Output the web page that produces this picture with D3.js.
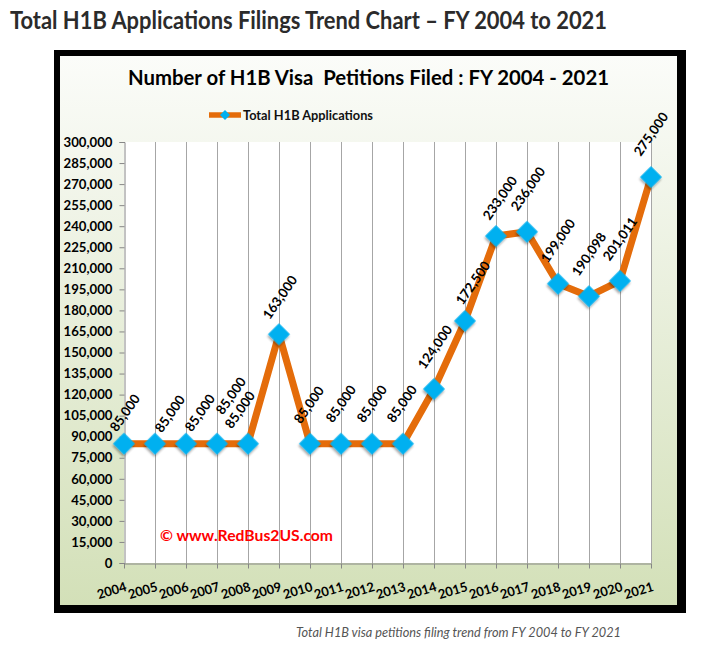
<!DOCTYPE html>
<html>
<head>
<meta charset="utf-8">
<script src="https://cdn.jsdelivr.net/npm/d3@7"></script>
<style>
  html, body { margin: 0; padding: 0; background: #ffffff; }
  svg { display: block; }
</style>
</head>
<body>
<svg id="chart" width="728" height="650"></svg>
<script>
// ---------------- DATA ----------------
const years = ["2004","2005","2006","2007","2008","2009","2010","2011","2012",
               "2013","2014","2015","2016","2017","2018","2019","2020","2021"];
const petitions = [85000, 85000, 85000, 85000, 85000, 163000, 85000, 85000, 85000,
                   85000, 124000, 172500, 233000, 236000, 199000, 190098, 201011, 275000];
const yTickValues = [0, 15000, 30000, 45000, 60000, 75000, 90000, 105000, 120000, 135000,
                     150000, 165000, 180000, 195000, 210000, 225000, 240000, 255000,
                     270000, 285000, 300000];
const seriesName = "Total H1B Applications";
const pageTitle = "Total H1B Applications Filings Trend Chart \u2013 FY 2004 to 2021";
const chartTitle = "Number of H1B Visa\u00a0 Petitions Filed : FY 2004 - 2021";
const watermark = "\u00a9 www.RedBus2US.com";
const caption = "Total H1B visa petitions filing trend from FY 2004 to FY 2021";

// ---------------- LAYOUT ----------------
// data-label nudges (layout only): [dx, dy] of label centre relative to its point
const labelNudge = [[1,-31],[15,-30],[14,-31],[14,-48],[-8,-34],[1,-37],[-1,-39],[0,-40],[0,-40],
                    [-1,-40],[1,-42],[8,-38],[4,-38],[1,-43],[0,-43],[0,-42],[0,-42],[0,-43]];
const FONT = "Lato, 'Open Sans', sans-serif";
const ORANGE = "#E46C0A", BLUE = "#00B0F0";

const svg = d3.select("#chart");
const defs = svg.append("defs");

const grad = defs.append("linearGradient").attr("id", "bg").attr("x1", 0).attr("y1", 0).attr("x2", 0).attr("y2", 1);
grad.append("stop").attr("offset", "0%").attr("stop-color", "#fbfcf9");
grad.append("stop").attr("offset", "35%").attr("stop-color", "#edf2e3");
grad.append("stop").attr("offset", "100%").attr("stop-color", "#d3e0b8");

const sh = defs.append("filter").attr("id", "shadow").attr("x", "-50%").attr("y", "-50%").attr("width", "200%").attr("height", "200%");
sh.append("feDropShadow").attr("dx", 1).attr("dy", 2).attr("stdDeviation", 1.2)
  .attr("flood-color", "#000").attr("flood-opacity", 0.35);

// page title
svg.append("text").attr("x", 10).attr("y", 29)
  .attr("font-family", FONT).attr("font-weight", 700).attr("font-size", 25)
  .attr("fill", "#2b2b2b").attr("textLength", 597).attr("lengthAdjust", "spacingAndGlyphs")
  .text(pageTitle);

// frame
svg.append("rect").attr("x", 54).attr("y", 50).attr("width", 632).attr("height", 563).attr("fill", "#000");
svg.append("rect").attr("x", 60).attr("y", 56).attr("width", 617).attr("height", 549).attr("fill", "url(#bg)");

// chart title
svg.append("text").attr("x", 128).attr("y", 85)
  .attr("font-family", FONT).attr("font-weight", 700).attr("font-size", 20)
  .attr("fill", "#000").attr("textLength", 481).attr("lengthAdjust", "spacingAndGlyphs")
  .text(chartTitle);

// scales
const x = d3.scalePoint().domain(years).range([124, 651]);
const y = d3.scaleLinear().domain([0, 300000]).range([563, 142]);

// plot area
svg.append("rect").attr("x", x.range()[0]).attr("y", y(300000))
  .attr("width", x.range()[1] - x.range()[0] + 1).attr("height", y(0) - y(300000)).attr("fill", "#fff");

// vertical gridlines
svg.append("g").selectAll("line").data(years.slice(1)).join("line")
  .attr("x1", d => x(d) + 0.5).attr("x2", d => x(d) + 0.5)
  .attr("y1", y(300000)).attr("y2", y(0))
  .attr("stroke", "#a6a6a6").attr("stroke-width", 1);

// y axis
const yAxis = d3.axisLeft(y).tickValues(yTickValues).tickSize(5).tickPadding(7)
  .tickFormat(d3.format(","));
const gy = svg.append("g").attr("transform", `translate(${x.range()[0] + 0.5},0)`).call(yAxis);
gy.select(".domain").attr("stroke", "#868686");
gy.selectAll(".tick line").attr("stroke", "#868686");
gy.selectAll(".tick text").attr("font-family", FONT).attr("font-weight", 700)
  .attr("font-size", 13.2).attr("fill", "#000");

// x axis
const xAxis = d3.axisBottom(x).tickSize(5).tickSizeOuter(0);
const gx = svg.append("g").attr("transform", `translate(0,${y(0) + 0.5})`).call(xAxis);
gx.select(".domain").attr("stroke", "#868686");
gx.selectAll(".tick line").attr("stroke", "#868686");
gx.selectAll(".tick text")
  .attr("font-family", FONT).attr("font-weight", 700).attr("font-size", 13).attr("fill", "#000")
  .attr("text-anchor", "end").attr("y", 0).attr("dy", 0)
  .attr("transform", "translate(3,27) rotate(-17)");

// watermark
svg.append("text").attr("x", 160).attr("y", 541)
  .attr("font-family", FONT).attr("font-weight", 700).attr("font-size", 14.5)
  .attr("fill", "#ff0000").attr("textLength", 173).attr("lengthAdjust", "spacingAndGlyphs")
  .text(watermark);

// line
const pts = years.map((yr, i) => ({ year: yr, value: petitions[i], i }));
svg.append("path").datum(pts)
  .attr("d", d3.line().x(d => x(d.year)).y(d => y(d.value)))
  .attr("fill", "none").attr("stroke", ORANGE).attr("stroke-width", 7)
  .attr("stroke-linejoin", "round");

// markers
const diamond = d3.symbol().type(d3.symbolSquare).size(240);
svg.append("g").selectAll("path").data(pts).join("path")
  .attr("d", diamond)
  .attr("transform", d => `translate(${x(d.year)},${y(d.value)}) rotate(45)`)
  .attr("fill", BLUE).attr("filter", "url(#shadow)");

// data labels
const fmt = d3.format(",");
svg.append("g").selectAll("text").data(pts).join("text")
  .attr("transform", d => `translate(${x(d.year) + labelNudge[d.i][0]},${y(d.value) + labelNudge[d.i][1]}) rotate(-55)`)
  .attr("text-anchor", "middle").attr("dy", "0.35em")
  .attr("font-family", FONT).attr("font-weight", 700).attr("font-size", 13.3).attr("fill", "#000")
  .text(d => fmt(d.value));

// legend
svg.append("line").attr("x1", 209).attr("x2", 241).attr("y1", 115).attr("y2", 115)
  .attr("stroke", ORANGE).attr("stroke-width", 5.5);
svg.append("path").attr("d", d3.symbol().type(d3.symbolSquare).size(50))
  .attr("transform", "translate(225,115) rotate(45)").attr("fill", BLUE);
svg.append("text").attr("x", 243).attr("y", 119.5)
  .attr("font-family", FONT).attr("font-weight", 700).attr("font-size", 12.5).attr("fill", "#111")
  .attr("textLength", 130).attr("lengthAdjust", "spacingAndGlyphs")
  .text(seriesName);

// caption
svg.append("text").attr("x", 296).attr("y", 637)
  .attr("font-family", FONT).attr("font-style", "italic").attr("font-size", 12.5).attr("fill", "#555")
  .attr("textLength", 325).attr("lengthAdjust", "spacingAndGlyphs")
  .text(caption);
</script>
</body>
</html>
